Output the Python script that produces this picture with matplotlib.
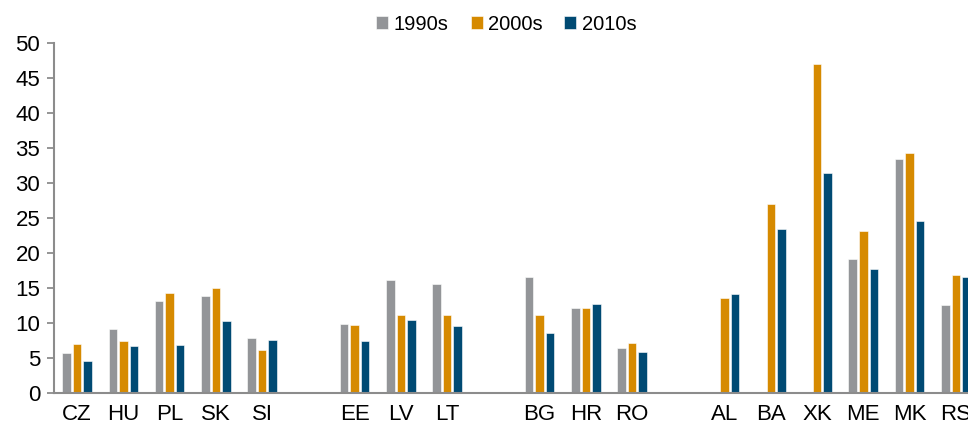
import numpy as np
from matplotlib import pyplot as plt

plt.rcParams['font.family'] = ['Liberation Sans', 'DejaVu Sans']

# kraje w grupach, None = pusta przerwa miedzy grupami
countries = ['CZ', 'HU', 'PL', 'SK', 'SI', None,
             'EE', 'LV', 'LT', None,
             'BG', 'HR', 'RO', None,
             'AL', 'BA', 'XK', 'ME', 'MK', 'RS']

v1990 = [5.7, 9.1, 13.2, 13.9, 7.8, None,
         9.9, 16.2, 15.6, None,
         16.6, 12.2, 6.4, None,
         None, None, None, 19.2, 33.4, 12.6]
v2000 = [7.0, 7.4, 14.3, 15.0, 6.1, None,
         9.7, 11.1, 11.1, None,
         11.2, 12.2, 7.1, None,
         13.6, 27.0, 47.0, 23.1, 34.3, 16.8]
v2010 = [4.5, 6.7, 6.8, 10.3, 7.5, None,
         7.4, 10.4, 9.6, None,
         8.5, 12.7, 5.9, None,
         14.2, 23.4, 31.4, 17.7, 24.6, 16.6]

series = ['1990s', '2000s', '2010s']
colors = ['#939598', '#D68A00', '#004A73']

fig = plt.figure(figsize=(9.68, 4.26), dpi=100)
ax = fig.add_axes([0.0558, 0.0775, 0.944, 0.822])

x = np.arange(len(countries))
width = 0.185
offsets = [-0.228, 0, 0.228]

for vals, off, col, name in zip([v1990, v2000, v2010], offsets, colors, series):
    xs = [xi + off for xi, v in zip(x, vals) if v is not None]
    ys = [v for v in vals if v is not None]
    ax.bar(xs, ys, width=width, color=col, edgecolor='white', linewidth=0.4, label=name)

ticks = [xi for xi, c in zip(x, countries) if c is not None]
labels = [c for c in countries if c is not None]
ax.set_xticks(ticks)
ax.set_xticklabels(labels, fontsize=16)
ax.tick_params(axis='x', length=0, pad=8)

ax.set_ylim(0, 50)
ax.set_yticks(range(0, 51, 5))
ax.tick_params(axis='y', labelsize=16, length=5, width=1.3, color='#8c8c8c', pad=5)
# os ucieta po prawej tak jak w oryginale (RS nie miesci sie w calosci)
ax.set_xlim(-0.5, 19.26)

for side in ['top', 'right']:
    ax.spines[side].set_visible(False)
for side in ['left', 'bottom']:
    ax.spines[side].set_color('#8c8c8c')
    ax.spines[side].set_linewidth(1.5)

fig.legend(loc='upper center', bbox_to_anchor=(0.523, 1.008), ncol=3, frameon=False,
           fontsize=14.5, handlelength=0.6, handleheight=0.6, handletextpad=0.25,
           columnspacing=1.1)

plt.savefig('out.png')
